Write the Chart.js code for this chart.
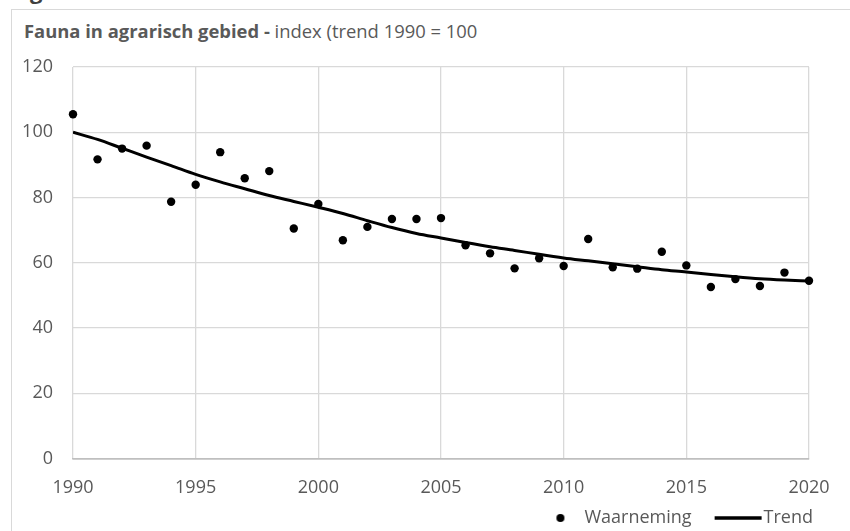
<!DOCTYPE html>
<html>
<head>
<meta charset="utf-8">
<script src="https://cdn.jsdelivr.net/npm/chart.js@4/dist/chart.umd.min.js"></script>
<style>
  html, body { margin: 0; padding: 0; background: #fff; }
  #wrap { position: relative; width: 850px; height: 531px; overflow: hidden; font-family: "Open Sans", sans-serif; }
  #frame { position: absolute; left: 11px; top: 9px; right: -5px; bottom: -5px; border-left: 1.5px solid #d9d9d9; border-top: 1.5px solid #d9d9d9; }
  #cut { position: absolute; left: 30px; top: -23px; font-weight: bold; font-size: 22px; line-height: 26px; color: #404040; }
  #title { position: absolute; left: 24px; top: 20px; font-size: 18.4px; line-height: 21.6px; color: #595959; white-space: nowrap; }
  #title b { font-weight: bold; }
  canvas { position: absolute; left: 0; top: 0; }
</style>
</head>
<body>
<div id="wrap">
  <div id="frame"></div>
  <div id="cut">g</div>
  <div id="title"><b>Fauna in agrarisch gebied -</b> index (trend 1990 = 100</div>
  <canvas id="chartFauna" width="850" height="537"></canvas>
</div>
<script>
const years = [1990, 1991, 1992, 1993, 1994, 1995, 1996, 1997, 1998, 1999,
  2000, 2001, 2002, 2003, 2004, 2005, 2006, 2007, 2008, 2009,
  2010, 2011, 2012, 2013, 2014, 2015, 2016, 2017, 2018, 2019, 2020];
const waarneming = [105.5, 91.7, 95.0, 95.9, 78.7, 83.9, 93.9, 85.9, 88.1, 70.5,
  78.0, 66.9, 71.0, 73.4, 73.4, 73.7, 65.4, 62.9, 58.3, 61.4,
  59.0, 67.3, 58.6, 58.2, 63.4, 59.2, 52.6, 55.0, 52.9, 57.0, 54.5];
const trend = [100, 97.8, 95.1, 92.4, 89.8, 87.1, 84.8, 82.7, 80.6, 78.8,
  77.0, 75.1, 72.9, 70.8, 69.0, 67.6, 66.2, 64.9, 63.8, 62.6,
  61.5, 60.6, 59.7, 58.8, 57.9, 57.2, 56.4, 55.7, 55.1, 54.7, 54.4];
const xTicks = [1990, 1995, 2000, 2005, 2010, 2015, 2020];
const yTicks = [0, 20, 40, 60, 80, 100, 120];

const textColor = '#595959';
const tickFont = {family: 'Open Sans', size: 18};
const legendBox = 53;

// little pictures for the legend (dot sits near its text, line runs up to "Trend")
function legendDot() {
  const c = document.createElement('canvas');
  c.width = legendBox; c.height = 12;
  const g = c.getContext('2d');
  g.fillStyle = '#000';
  g.beginPath(); g.arc(38, 6, 4, 0, Math.PI * 2); g.fill();
  return c;
}
function legendLine() {
  const c = document.createElement('canvas');
  c.width = legendBox + 16; c.height = 6;
  const g = c.getContext('2d');
  g.strokeStyle = '#000'; g.lineWidth = 3.5;
  g.beginPath(); g.moveTo(c.width - 48, 3); g.lineTo(c.width - 1, 3); g.stroke();
  return c;
}
const legendIcons = [legendDot(), legendLine()];

const legendShift = {
  id: 'legendShift',
  afterLayout(chart) {
    chart.legend.left += 14;
    chart.legend.right += 14;
  }
};

const ctx = document.getElementById('chartFauna');

new Chart(ctx, {
  type: 'line',
  data: {
    datasets: [{
      label: 'Waarneming',
      data: years.map((y, i) => ({x: y, y: waarneming[i]})),
      showLine: false,
      pointRadius: 4.2,
      pointHoverRadius: 4.2,
      pointBackgroundColor: '#000',
      pointBorderWidth: 0,
      borderColor: '#000',
      backgroundColor: '#000',
      clip: false,
      order: 0
    }, {
      label: 'Trend',
      data: years.map((y, i) => ({x: y, y: trend[i]})),
      borderColor: '#000',
      backgroundColor: '#000',
      borderWidth: 3,
      pointRadius: 0,
      cubicInterpolationMode: 'monotone',
      order: 1
    }]
  },
  plugins: [legendShift],
  options: {
    responsive: false,
    animation: false,
    events: [],
    layout: {
      padding: {left: 12, right: 41, top: 67, bottom: 0}
    },
    plugins: {
      tooltip: {enabled: false},
      legend: {
        position: 'bottom',
        align: 'end',
        labels: {
          usePointStyle: true,
          pointStyleWidth: legendBox,
          padding: 10,
          color: textColor,
          font: tickFont,
          generateLabels(chart) {
            return chart.data.datasets.map((ds, i) => ({
              text: ds.label,
              fontColor: textColor,
              fillStyle: '#000',
              strokeStyle: '#000',
              lineWidth: 0,
              pointStyle: legendIcons[i],
              hidden: false,
              datasetIndex: i
            }));
          }
        }
      }
    },
    scales: {
      x: {
        type: 'linear',
        min: 1990,
        max: 2020,
        afterBuildTicks(scale) { scale.ticks = xTicks.map(v => ({value: v})); },
        afterFit(scale) { scale.height = 40.4; },
        ticks: {
          color: textColor,
          font: tickFont,
          padding: 18,
          maxRotation: 0,
          callback: v => String(v)
        },
        grid: {
          color: '#d9d9d9',
          lineWidth: 1.3,
          drawTicks: false
        },
        border: {display: true, color: '#bfbfbf', width: 1.5}
      },
      y: {
        min: 0,
        max: 120,
        afterBuildTicks(scale) { scale.ticks = yTicks.map(v => ({value: v})); },
        afterFit(scale) { scale.width = 61; },
        ticks: {
          color: textColor,
          font: tickFont,
          padding: 20
        },
        grid: {
          color: c => c.tick && c.tick.value === 0 ? '#bfbfbf' : '#d9d9d9',
          lineWidth: c => c.tick && c.tick.value === 0 ? 1.5 : 1.3,
          drawTicks: false
        },
        border: {display: false}
      }
    }
  }
});
</script>
</body>
</html>
